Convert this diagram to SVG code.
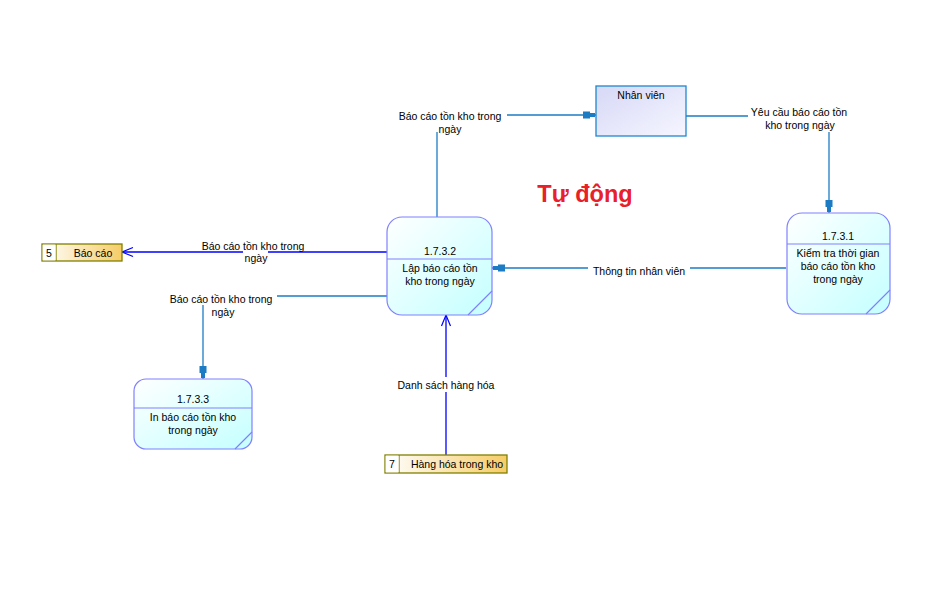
<svg xmlns="http://www.w3.org/2000/svg" width="935" height="606" viewBox="0 0 935 606">
<defs>
<linearGradient id="gProc" x1="0" y1="0" x2="1" y2="1">
<stop offset="0" stop-color="#ffffff"/>
<stop offset="1" stop-color="#c4ffff"/>
</linearGradient>
<linearGradient id="gEnt" x1="0" y1="0" x2="1" y2="1">
<stop offset="0" stop-color="#d6d8f6"/>
<stop offset="1" stop-color="#f6f6ff"/>
</linearGradient>
<linearGradient id="gStore" x1="0" y1="0" x2="1" y2="0">
<stop offset="0" stop-color="#ffffff"/>
<stop offset="1" stop-color="#f6cc66"/>
</linearGradient>
<marker id="plug" markerUnits="userSpaceOnUse" markerWidth="20" markerHeight="12" viewBox="-16 -6 20 12" refX="0" refY="0" orient="auto" overflow="visible">
<path d="M-13,-3.5 L-6,-3.5 L-6,-2 L-1,-2 L-1,2 L-6,2 L-6,3.5 L-13,3.5 Z" fill="#1b7cc4"/>
</marker>
<marker id="open" markerUnits="userSpaceOnUse" markerWidth="16" markerHeight="12" viewBox="-14 -6 16 12" refX="0" refY="0" orient="auto" overflow="visible">
<path d="M-11,-4.5 L0,0 L-11,4.5" fill="none" stroke="#0000ff" stroke-width="1.2"/>
</marker>
</defs>
<style>
text{font-family:"Liberation Sans",Arial,sans-serif;font-size:10.5px;fill:#000000}
.c{text-anchor:middle}
.proc{fill:url(#gProc);stroke:#8080ff;stroke-width:1.2}
.div{stroke:#8080ff;stroke-width:1.2;fill:none}
.ent{fill:url(#gEnt);stroke:#1e88d0;stroke-width:1.3}
.store{fill:url(#gStore);stroke:#808000;stroke-width:1.3}
.f1{fill:none;stroke:#1b7cc4;stroke-width:1.3}
.f2{fill:none;stroke:#0000ff;stroke-width:1.3}
.title{font-size:23.5px;font-weight:bold;fill:#e8202a}
</style>
<rect width="935" height="606" fill="#ffffff"/>

<g id="connectors">
<path class="f1" d="M437,217 V132"/>
<path class="f1" d="M507,115 H596" marker-end="url(#plug)"/>
<path class="f1" d="M686,116 H748"/>
<path class="f1" d="M829,132 V213" marker-end="url(#plug)"/>
<path class="f1" d="M786,268 H690"/>
<path class="f1" d="M588,268 H492" marker-end="url(#plug)"/>
<path class="f2" d="M387,252 H268"/>
<path class="f2" d="M243,252 H122" marker-end="url(#open)"/>
<path class="f1" d="M387,296 H277"/>
<path class="f1" d="M203,305 V379" marker-end="url(#plug)"/>
<path class="f2" d="M446,455 V392"/>
<path class="f2" d="M446,377 V315" marker-end="url(#open)"/>
<text class="c" x="450" y="120">Báo cáo tồn kho trong</text>
<text class="c" x="450" y="133">ngày</text>
<text class="c" x="799" y="116">Yêu cầu báo cáo tồn</text>
<text class="c" x="800" y="129">kho trong ngày</text>
<text class="c" x="639" y="275">Thông tin nhân viên</text>
<text class="c" x="253" y="250">Báo cáo tồn kho trong</text>
<text class="c" x="256" y="262">ngày</text>
<text class="c" x="221" y="303">Báo cáo tồn kho trong</text>
<text class="c" x="223" y="316">ngày</text>
<text class="c" x="446" y="389">Danh sách hàng hóa</text>
</g>

<g id="nhan-vien">
<rect class="ent" x="596" y="86" width="90" height="50"/>
<text class="c" x="641" y="99">Nhân viên</text>
</g>

<g id="p1732">
<rect class="proc" x="387" y="217" width="105" height="98" rx="15" ry="15"/>
<path class="div" d="M387,259 H492 M492,291 L468,315"/>
<text class="c" x="440" y="255">1.7.3.2</text>
<text class="c" x="440" y="272">Lập báo cáo tồn</text>
<text class="c" x="440" y="285">kho trong ngày</text>
</g>

<g id="p1731">
<rect class="proc" x="787" y="213" width="103" height="101" rx="15" ry="15"/>
<path class="div" d="M787,244 H890 M890,290 L866,314"/>
<text class="c" x="838" y="240">1.7.3.1</text>
<text class="c" x="838" y="257">Kiểm tra thời gian</text>
<text class="c" x="838" y="270">báo cáo tồn kho</text>
<text class="c" x="838" y="283">trong ngày</text>
</g>

<g id="p1733">
<rect class="proc" x="134" y="379" width="118" height="70" rx="12" ry="12"/>
<path class="div" d="M134,408 H252 M252,432 L235,449"/>
<text class="c" x="193" y="403">1.7.3.3</text>
<text class="c" x="193" y="421">In báo cáo tồn kho</text>
<text class="c" x="193" y="434">trong ngày</text>
</g>

<g id="store5">
<rect class="store" x="42" y="244" width="80" height="17"/>
<path d="M56,244 V261" stroke="#808000" stroke-width="1.3"/>
<rect x="42.7" y="244.7" width="13" height="15.6" fill="#ffffff"/>
<text class="c" x="49" y="257">5</text>
<text class="c" x="93" y="257">Báo cáo</text>
</g>

<g id="store7">
<rect class="store" x="385" y="455" width="122" height="18"/>
<path d="M399,455 V473" stroke="#808000" stroke-width="1.3"/>
<rect x="385.7" y="455.7" width="13" height="16.6" fill="#ffffff"/>
<text class="c" x="392" y="468">7</text>
<text class="c" x="457" y="468">Hàng hóa trong kho</text>
</g>

<text class="c title" x="585" y="202">Tự động</text>
</svg>
